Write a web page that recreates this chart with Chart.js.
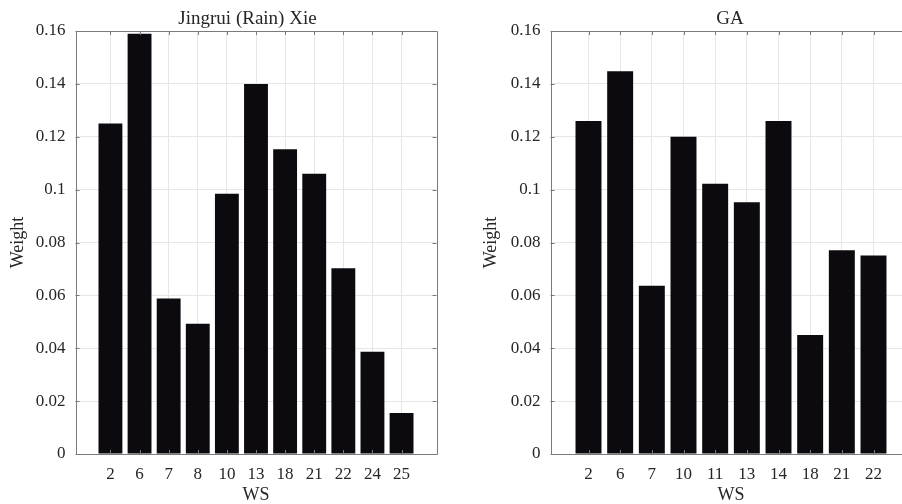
<!DOCTYPE html>
<html>
<head>
<meta charset="utf-8">
<script src="https://cdn.jsdelivr.net/npm/chart.js@4.4.1/dist/chart.umd.min.js"></script>
<style>
  html, body { margin: 0; padding: 0; background: #fff; overflow: hidden; }
  body { width: 902px; height: 504px; position: relative; }
  .panel { position: absolute; top: 0; height: 504px; }
  #left { left: 0; width: 451px; }
  #right { left: 451px; width: 500px; }
</style>
</head>
<body>
<div class="panel" id="left"><canvas id="chartLeft"></canvas></div>
<div class="panel" id="right"><canvas id="chartRight"></canvas></div>
<script>
// WS categories and their weights, one pair of arrays per method
var wsLeft = ['2', '6', '7', '8', '10', '13', '18', '21', '22', '24', '25'];
var weightLeft = [0.125, 0.159, 0.0588, 0.0493, 0.0984, 0.14, 0.1153, 0.106, 0.0703, 0.0387, 0.0155];
var wsRight = ['2', '6', '7', '10', '11', '13', '14', '18', '21', '22'];
var weightRight = [0.126, 0.1448, 0.0636, 0.12, 0.1022, 0.0952, 0.126, 0.045, 0.0771, 0.0751];
var yTicks = [0, 0.02, 0.04, 0.06, 0.08, 0.1, 0.12, 0.14, 0.16];

var FONT = "'Liberation Serif', 'Times New Roman', serif";
var TEXT = '#262626';

// axes box with short inward tick marks on all four sides
var boxPlugin = {
    id: 'axesBox',
    afterDatasetsDraw: function(chart) {
        var a = chart.chartArea, ctx = chart.ctx;
        var xs = chart.scales.x, ys = chart.scales.y;
        ctx.save();
        ctx.strokeStyle = '#7a7a7a';
        ctx.lineWidth = 1;
        ctx.beginPath();
        xs.ticks.forEach(function(t) {
            var px = Math.round(xs.getPixelForValue(t.value)) + 0.5;
            ctx.moveTo(px, a.top); ctx.lineTo(px, a.top + 4);
            ctx.moveTo(px, a.bottom); ctx.lineTo(px, a.bottom - 4);
        });
        ys.ticks.forEach(function(t) {
            var py = Math.round(ys.getPixelForValue(t.value)) + 0.5;
            ctx.moveTo(a.left, py); ctx.lineTo(a.left + 4, py);
            ctx.moveTo(a.right, py); ctx.lineTo(a.right - 4, py);
        });
        ctx.rect(Math.round(a.left) + 0.5, Math.round(a.top) + 0.5,
                 Math.round(a.right - a.left), Math.round(a.bottom - a.top));
        ctx.stroke();
        ctx.restore();
    }
};

// panel heading, centred over the plot area with a small horizontal shift
var headingPlugin = {
    id: 'panelHeading',
    afterDraw: function(chart, args, opts) {
        var a = chart.chartArea, ctx = chart.ctx;
        ctx.save();
        ctx.fillStyle = TEXT;
        ctx.font = '19px ' + FONT;
        ctx.textAlign = 'center';
        ctx.textBaseline = 'middle';
        ctx.fillText(opts.text, (a.left + a.right) / 2 + opts.shift, 19);
        ctx.restore();
    }
};

function makeChart(id, titleText, titleShift, categories, values, axisWidth, padRight, yTitlePad) {
    var ctx = document.getElementById(id).getContext('2d');
    return new Chart(ctx, {
        type: 'bar',
        data: {
            datasets: [{
                data: categories.map(function(c, i) { return { x: i, y: values[i] }; }),
                backgroundColor: '#0c0a0e',
                borderWidth: 0,
                categoryPercentage: 1,
                barPercentage: 0.82
            }]
        },
        options: {
            responsive: true,
            maintainAspectRatio: false,
            animation: false,
            layout: { padding: { left: 0, right: padRight, top: 31, bottom: 0 } },
            plugins: {
                legend: { display: false },
                tooltip: { enabled: false },
                title: { display: false },
                panelHeading: { text: titleText, shift: titleShift }
            },
            scales: {
                x: {
                    type: 'linear',
                    min: -1.2,
                    max: categories.length - 1 + 1.2,
                    offset: false,
                    afterBuildTicks: function(s) {
                        s.ticks = categories.map(function(c, i) { return { value: i }; });
                    },
                    afterFit: function(s) { s.height = 50; },
                    grid: { offset: false, color: '#e6e6e6', drawTicks: false },
                    border: { display: false },
                    ticks: {
                        autoSkip: false,
                        maxRotation: 0,
                        padding: 10,
                        color: TEXT,
                        font: { family: FONT, size: 17 },
                        callback: function(v) { return categories[v]; }
                    },
                    title: {
                        display: true,
                        text: 'WS',
                        color: TEXT,
                        padding: 0,
                        font: { family: FONT, size: 18, lineHeight: 1 }
                    }
                },
                y: {
                    min: 0,
                    max: 0.16,
                    afterBuildTicks: function(s) {
                        s.ticks = yTicks.map(function(v) { return { value: v }; });
                    },
                    afterFit: function(s) { s.width = axisWidth; },
                    grid: { color: '#e6e6e6', drawTicks: false },
                    border: { display: false },
                    ticks: {
                        padding: 10,
                        color: TEXT,
                        font: { family: FONT, size: 17 },
                        callback: function(v) { return String(+v.toFixed(2)); }
                    },
                    title: {
                        display: true,
                        text: 'Weight',
                        color: TEXT,
                        padding: { top: yTitlePad, bottom: 0 },
                        font: { family: FONT, size: 18, lineHeight: 1.2 }
                    }
                }
            }
        },
        plugins: [boxPlugin, headingPlugin]
    });
}

makeChart('chartLeft', 'Jingrui (Rain) Xie', -8.5, wsLeft, weightLeft, 75.5, 14.5, 7.5);
makeChart('chartRight', 'GA', -1, wsRight, weightRight, 99.5, 39.5, 29.7);
</script>
</body>
</html>
